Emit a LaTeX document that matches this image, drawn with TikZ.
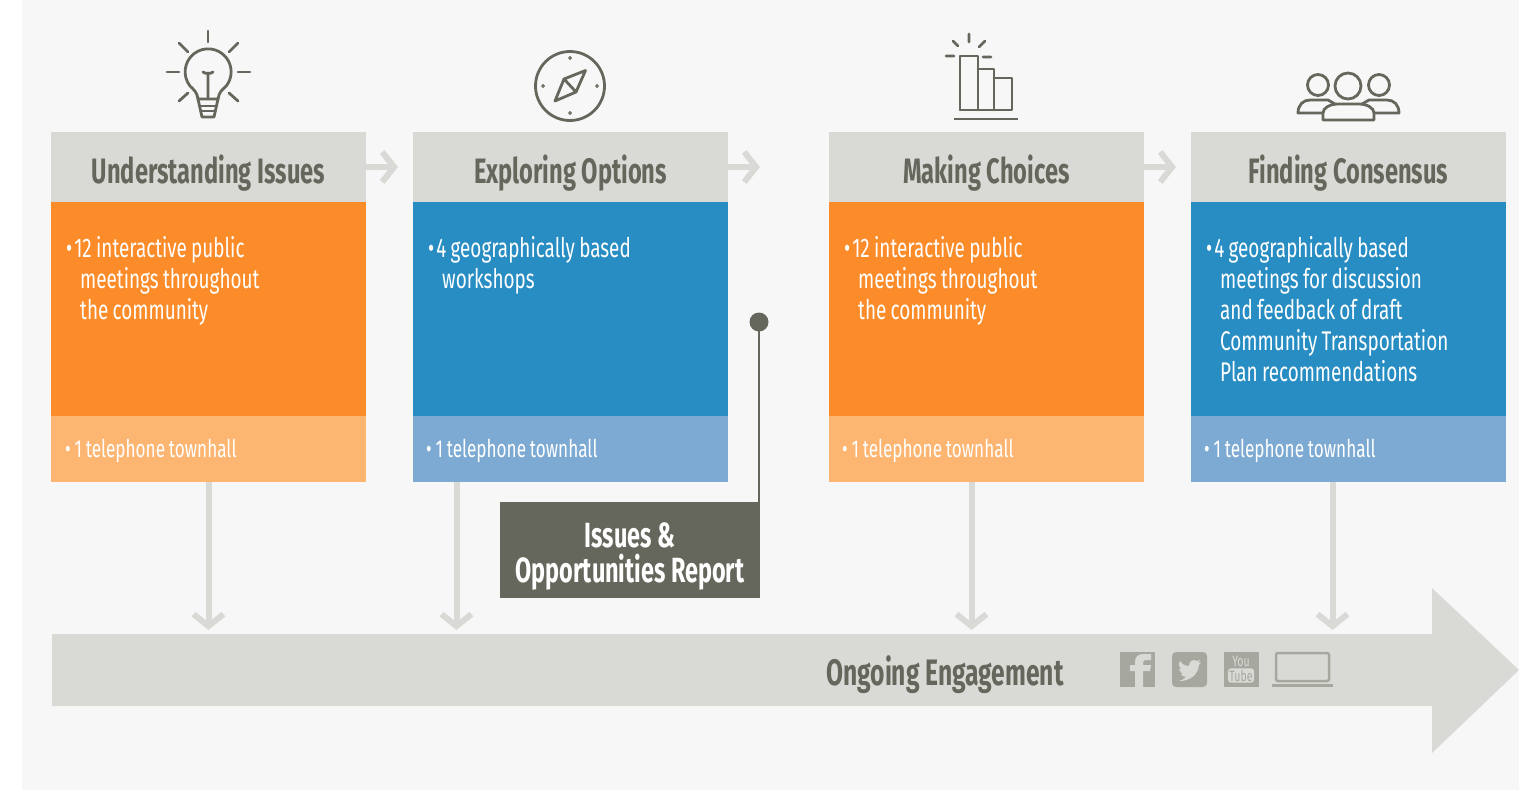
\documentclass[tikz,border=0pt]{standalone}
\usepackage{xcolor}
\usepackage{fontspec}
\setmainfont[FakeStretch=0.70,WordSpace=0.85]{Fira Sans}
\newfontfamily\titlefont[FakeStretch=0.67]{Fira Sans}
\usetikzlibrary{arrows.meta}
\definecolor{pagegray}{HTML}{F7F7F7}
\definecolor{headgray}{HTML}{D9DAD5}
\definecolor{darkgray}{HTML}{66675C}
\definecolor{icongray}{HTML}{A6A79F}
\definecolor{orangemain}{HTML}{FC8C2A}
\definecolor{orangelight}{HTML}{FDB572}
\definecolor{bluemain}{HTML}{288DC3}
\definecolor{bluelight}{HTML}{7DAAD2}
\tikzstyle{headbox} = [rectangle, minimum width=315pt, minimum height=70pt, inner sep=0pt, align=center, fill=headgray, text=darkgray, font=\titlefont\bfseries\fontsize{35.3}{36}\selectfont]
\tikzstyle{orangebody} = [rectangle, minimum width=315pt, minimum height=214pt, inner sep=0pt, fill=orangemain]
\tikzstyle{bluebody} = [rectangle, minimum width=315pt, minimum height=214pt, inner sep=0pt, fill=bluemain]
\tikzstyle{orangefoot} = [rectangle, minimum width=315pt, minimum height=66pt, inner sep=0pt, fill=orangelight]
\tikzstyle{bluefoot} = [rectangle, minimum width=315pt, minimum height=66pt, inner sep=0pt, fill=bluelight]
\tikzstyle{bodytext} = [anchor=north west, inner sep=0pt, align=left, text=white, font=\fontsize{27}{31}\selectfont]
\tikzstyle{foottext} = [anchor=west, inner sep=0pt, text=white, font=\fontsize{24.5}{28}\selectfont]
\tikzstyle{arrow} = [line width=6pt, draw=headgray, -{Straight Barb[length=12pt,width=30pt,line width=6pt]}]
\tikzstyle{icon} = [draw=darkgray, line width=2.8pt, line cap=round, line join=round]
\newcommand{\lowered}[1]{\raisebox{-6pt}[\height][\depth]{#1}}
\begin{document}
\begin{tikzpicture}[x=1pt, y=-1pt, node distance=362pt]
\useasboundingbox (0,0) rectangle (1519,790);
\fill[pagegray] (22,0) rectangle (1519,790);

% columns
\node (under_head) [headbox] at (208.5,167) {\lowered{Understanding Issues}};
\node (explore_head) [headbox, right of=under_head] {\lowered{Exploring Options}};
\node (choice_head) [headbox, right of=explore_head, xshift=54pt] {\lowered{Making Choices}};
\node (consensus_head) [headbox, right of=choice_head] {\lowered{Finding Consensus}};

\node (under_body) [orangebody] at (208.5,309) {};
\node (explore_body) [bluebody] at (570.5,309) {};
\node (choice_body) [orangebody] at (986.5,309) {};
\node (consensus_body) [bluebody] at (1348.5,309) {};

\node (under_foot) [orangefoot] at (208.5,449) {};
\node (explore_foot) [bluefoot] at (570.5,449) {};
\node (choice_foot) [orangefoot] at (986.5,449) {};
\node (consensus_foot) [bluefoot] at (1348,449) {};

\def\hang{\hspace*{14pt}}
\node (under_text) [bodytext] at (66,236) {•\kern2pt 12 interactive public\\\hang meetings throughout\\\hang the community};
\node (explore_text) [bodytext] at (428,236) {•\kern2pt 4 geographically based\\\hang workshops};
\node (choice_text) [bodytext] at (844,236) {•\kern2pt 12 interactive public\\\hang meetings throughout\\\hang the community};
\node (consensus_text) [bodytext] at (1206,236) {•\kern2pt 4 geographically based\\\hang meetings for discussion\\\hang and feedback of draft\\\hang Community Transportation\\\hang Plan recommendations};

\node (under_tel) [foottext] at (65,451) {• 1 telephone townhall};
\node (explore_tel) [foottext] at (426,451) {• 1 telephone townhall};
\node (choice_tel) [foottext] at (842,451) {• 1 telephone townhall};
\node (consensus_tel) [foottext] at (1204,451) {• 1 telephone townhall};

% long arrow
\fill[headgray] (52,634) -- (1432,634) -- (1432,588) -- (1519,670) -- (1432,753) -- (1432,706) -- (52,706) -- cycle;
\node (ongoing) [text=darkgray, inner sep=0pt, font=\titlefont\bfseries\fontsize{36.8}{36}\selectfont] at (945,675) {Ongoing Engagement};

% arrows
\coordinate (next1) at (398,167);
\coordinate (next2) at (760,167);
\coordinate (next3) at (1176,167);
\draw[arrow] (under_head.east) -- (next1);
\draw[arrow] (explore_head.east) -- (next2);
\draw[arrow] (choice_head.east) -- (next3);

\coordinate (in1) at (208.5,630);
\coordinate (in2) at (456.5,630);
\coordinate (in3) at (971.5,630);
\coordinate (in4) at (1332.5,630);
\draw[arrow] (under_foot.south -| in1) -- (in1);
\draw[arrow] (explore_foot.south -| in2) -- (in2);
\draw[arrow] (choice_foot.south -| in3) -- (in3);
\draw[arrow] (consensus_foot.south -| in4) -- (in4);

% report
\node (report) [rectangle, minimum width=260pt, minimum height=96pt, inner sep=0pt, align=center, fill=darkgray, text=white, font=\titlefont\bfseries\fontsize{35}{35}\selectfont] at (630,550) {\lowered{Issues \&}\\\lowered{Opportunities Report}};
\node (report_dot) [circle, minimum size=19pt, inner sep=0pt, fill=darkgray] at (759,322) {};
\draw[darkgray, line width=2pt] (report_dot.center) -- (report_dot.center |- report.north);

% bulb
\draw[icon] (208,31) -- (208,42) (167,72) -- (179,72) (238,72) -- (250,72);
\draw[icon] (179,43) -- (188,52) (238,43) -- (229,52) (179,101) -- (188,93) (238,101) -- (229,93);
\draw[icon] (198,99) .. controls (197,92) and (194,90) .. (190,86) arc[start angle=218, end angle=-38, radius=23pt] .. controls (222,90) and (219,92) .. (218,99) -- cycle;
\draw[icon] (198,99) -- (202,117) -- (214,117) -- (218,99);
\draw[icon] (200,106) -- (216,106) (201,111) -- (215,111);
\draw[icon] (208,99) -- (208,73) (203,72) .. controls (205,74) and (211,74) .. (213,72);

% compass
\draw[icon] (570,86) circle[radius=34.5pt];
\draw[icon, line width=1pt] (570,58) circle[radius=1.4pt] (570,113) circle[radius=1.4pt] (543,86) circle[radius=1.4pt] (597,86) circle[radius=1.4pt];
\draw[icon] (585.5,70.5) -- (564,79) -- (555,101) -- (576,92) -- cycle (564,79) -- (576,92);

% bars
\draw[icon] (969,34) -- (969,42) (953,41) -- (958,46) (985,41) -- (979,47) (946,56) -- (954,56) (983,57) -- (991,57);
\draw[icon] (960,110) -- (960,56) -- (978,56) -- (978,110) (978,69) -- (994,69) -- (994,110) (994,78) -- (1012,78) -- (1012,110) -- (960,110);
\draw[icon, line cap=butt] (954,119) -- (1018,119);

% people
\draw[icon] (1348,86) circle[radius=13pt] (1318,85) circle[radius=10.5pt] (1379,85) circle[radius=10.5pt];
\draw[icon] (1323,120) -- (1323,113) .. controls (1323,108) and (1330,104) .. (1337,104) -- (1359,104) .. controls (1367,104) and (1374,108) .. (1374,113) -- (1374,120) -- cycle;
\draw[icon] (1323,113) -- (1298,113) .. controls (1298,105) and (1303,100) .. (1310,100) -- (1328,100) -- (1335,104);
\draw[icon] (1374,113) -- (1399,113) .. controls (1399,105) and (1394,100) .. (1387,100) -- (1369,100) -- (1362,104);

% social icons
\fill[icongray] (1120,652) rectangle (1155,687);
\fill[headgray] (1135,687) -- (1135,671) -- (1130,671) -- (1130,665) -- (1135,665) -- (1135,662) .. controls (1135,657) and (1138,654) .. (1143,654) -- (1151,654) -- (1151,660) -- (1146,660) .. controls (1144,660) and (1143,661) .. (1143,663) -- (1143,665) -- (1151,665) -- (1150,671) -- (1143,671) -- (1143,687) -- cycle;
\fill[icongray, rounded corners=4pt] (1172,652) rectangle (1207,687);
\fill[headgray] (1179,681) .. controls (1190,681) and (1198,675) .. (1199,665) -- (1201,662) -- (1198,663) -- (1200,660) -- (1197,661) .. controls (1194,659) and (1189,660) .. (1189,666) .. controls (1185,666) and (1182,664) .. (1180,661) .. controls (1178,664) and (1179,667) .. (1181,669) -- (1179,669) .. controls (1180,672) and (1181,673) .. (1183,674) -- (1181,674) .. controls (1182,676) and (1184,677) .. (1186,677) .. controls (1184,679) and (1182,680) .. (1179,681) -- cycle;
\fill[icongray] (1224,652) rectangle (1259,687);
\node (yt_you) [inner sep=0pt, text=headgray, font=\fontsize{15}{15}\selectfont] at (1241,661.5) {You};
\node (yt_tube) [rectangle, rounded corners=3pt, inner sep=1.5pt, fill=headgray, text=icongray, font=\fontsize{15}{15}\selectfont] at (1241,675.5) {Tube};
\draw[icongray, line width=2.5pt, rounded corners=2pt] (1276,653) rectangle (1329,681);
\fill[icongray] (1272,684) rectangle (1333,687);
\end{tikzpicture}
\end{document}
